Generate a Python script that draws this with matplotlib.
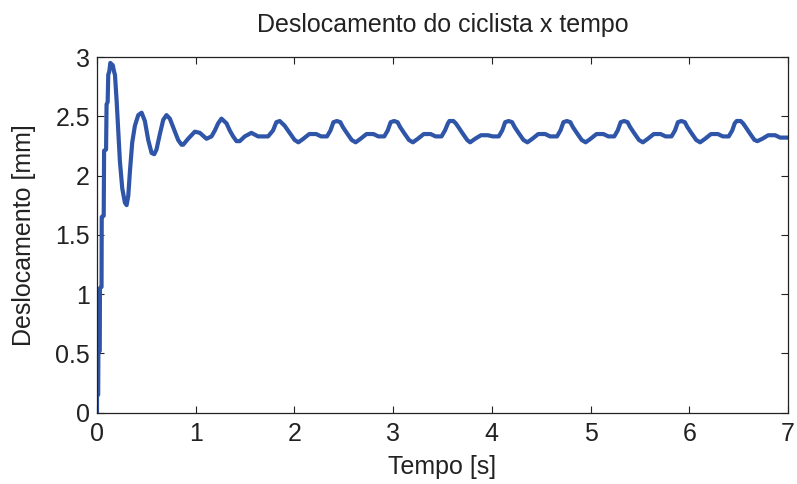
import numpy as np
import matplotlib.pyplot as plt

plt.rcParams['font.family'] = ['Liberation Sans', 'DejaVu Sans']

# time [s] and displacement [mm]
tempo = [0.0, 0.0, 0.012, 0.014, 0.028, 0.030, 0.046, 0.048, 0.068, 0.072, 0.092, 0.097,
         0.108, 0.114, 0.125, 0.135, 0.160, 0.175, 0.182, 0.199, 0.216, 0.232, 0.256, 0.283,
         0.300, 0.317, 0.334, 0.357, 0.384, 0.418, 0.452, 0.485, 0.519, 0.553, 0.580, 0.603,
         0.637, 0.671, 0.704, 0.738, 0.789, 0.822, 0.856, 0.873, 0.923, 0.991, 1.042, 1.109,
         1.160, 1.194, 1.227, 1.261, 1.312, 1.345, 1.379, 1.413, 1.446, 1.497, 1.564, 1.632,
         1.733, 1.783, 1.817, 1.851, 1.901, 1.952, 2.002, 2.04, 2.09, 2.15, 2.22, 2.27,
         2.33, 2.365, 2.395, 2.43, 2.465, 2.49, 2.53, 2.58, 2.62, 2.67, 2.73, 2.80, 2.85,
         2.91, 2.945, 2.975, 3.01, 3.045, 3.07, 3.11, 3.16, 3.20, 3.25, 3.31, 3.38, 3.43,
         3.49, 3.525, 3.555, 3.57, 3.61, 3.635, 3.66, 3.70, 3.75, 3.78, 3.83, 3.89, 3.96, 4.01,
         4.07, 4.105, 4.135, 4.17, 4.205, 4.23, 4.27, 4.32, 4.36, 4.41, 4.47, 4.54, 4.59,
         4.66, 4.695, 4.725, 4.76, 4.795, 4.82, 4.86, 4.91, 4.95, 5.00, 5.06, 5.13, 5.18,
         5.24, 5.275, 5.305, 5.34, 5.375, 5.40, 5.44, 5.49, 5.53, 5.58, 5.64, 5.71, 5.76,
         5.82, 5.855, 5.885, 5.92, 5.955, 5.98, 6.02, 6.07, 6.11, 6.16, 6.22, 6.29, 6.34,
         6.40, 6.435, 6.46, 6.48, 6.52, 6.545, 6.57, 6.61, 6.66, 6.69, 6.74, 6.80, 6.87, 6.92,
         7.0]
desloc = [0.0, 0.14, 0.15, 0.52, 0.52, 1.05, 1.06, 1.65, 1.66, 2.21, 2.22, 2.60,
          2.62, 2.85, 2.88, 2.95, 2.93, 2.87, 2.85, 2.63, 2.37, 2.12, 1.89, 1.77,
          1.75, 1.83, 2.04, 2.28, 2.42, 2.51, 2.53, 2.46, 2.30, 2.19, 2.18, 2.22,
          2.35, 2.47, 2.51, 2.48, 2.37, 2.30, 2.26, 2.26, 2.31, 2.37, 2.36, 2.31,
          2.33, 2.38, 2.44, 2.48, 2.44, 2.38, 2.33, 2.29, 2.29, 2.33, 2.36, 2.33,
          2.33, 2.38, 2.45, 2.46, 2.42, 2.36, 2.30, 2.28, 2.31, 2.35, 2.35, 2.33,
          2.33, 2.38, 2.45, 2.46, 2.45, 2.41, 2.36, 2.30, 2.28, 2.31, 2.35, 2.35, 2.33,
          2.33, 2.38, 2.45, 2.46, 2.45, 2.41, 2.36, 2.30, 2.28, 2.31, 2.35, 2.35, 2.33,
          2.33, 2.38, 2.44, 2.46, 2.46, 2.44, 2.41, 2.36, 2.30, 2.28, 2.31, 2.34, 2.34, 2.33,
          2.33, 2.38, 2.45, 2.46, 2.45, 2.41, 2.36, 2.30, 2.28, 2.31, 2.35, 2.35, 2.33,
          2.33, 2.38, 2.45, 2.46, 2.45, 2.41, 2.36, 2.30, 2.28, 2.31, 2.35, 2.35, 2.33,
          2.33, 2.38, 2.45, 2.46, 2.45, 2.41, 2.36, 2.30, 2.28, 2.31, 2.35, 2.35, 2.33,
          2.33, 2.38, 2.45, 2.46, 2.45, 2.41, 2.36, 2.30, 2.28, 2.31, 2.35, 2.35, 2.33,
          2.33, 2.38, 2.44, 2.46, 2.46, 2.44, 2.41, 2.36, 2.30, 2.29, 2.31, 2.34, 2.34, 2.32,
          2.32]

xticks = [0, 1, 2, 3, 4, 5, 6, 7]
yticks = [0, 0.5, 1, 1.5, 2, 2.5, 3]
yticklabels = ['0', '0.5', '1', '1.5', '2', '2.5', '3']

fig = plt.figure(figsize=(7.97, 4.84), dpi=100)
ax = fig.add_axes([0.1217, 0.1477, 0.8670, 0.7345])
ax.plot(tempo, desloc, color='#2f55a8', lw=3.0, solid_joinstyle='round')

ax.set_xlim(0, 7)
ax.set_ylim(0, 3)
ax.set_xticks(xticks)
ax.set_yticks(yticks)
ax.set_yticklabels(yticklabels)
ax.tick_params(direction='in', top=True, right=True, labelsize=18, length=5,
               width=0.8, colors='#222222')
ax.tick_params(axis='x', pad=7)
ax.tick_params(axis='y', pad=5)
for s in ax.spines.values():
    s.set_linewidth(0.9)
    s.set_color('#222222')

ax.set_title('Deslocamento do ciclista x tempo', fontsize=18, pad=18, color='#222222')
ax.set_xlabel('Tempo [s]', fontsize=18, labelpad=6, color='#222222')
ax.set_ylabel('Deslocamento [mm]', fontsize=18, labelpad=14, color='#222222')

fig.savefig('out.png', dpi=100)
